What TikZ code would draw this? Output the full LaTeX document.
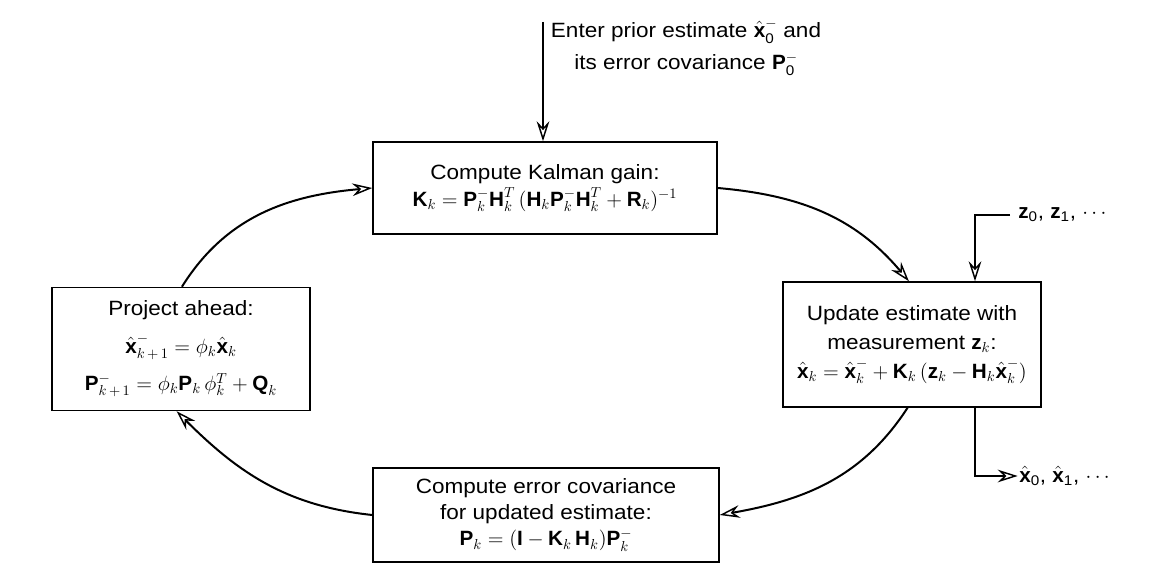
\RequirePackage{fix-cm}
\documentclass[tikz,border=0pt]{standalone}
\usepackage{fontspec}
\setmainfont{Liberation Sans}[FakeStretch=1.09]
\newfontfamily\letfont{Liberation Sans}
\usetikzlibrary{arrows.meta}
\newcommand{\bv}[1]{\mbox{\letfont\bfseries #1}}
\newcommand{\sn}[1]{\mbox{\fontsize{10.5}{11}\selectfont #1}}
\begin{document}
\begin{tikzpicture}[x=0.75pt,y=0.75pt,
  box/.style={draw, line width=1.1pt, align=center, inner sep=0pt,
    font=\fontsize{15.5}{19}\selectfont},
  lbl/.style={inner sep=0pt, font=\fontsize{15.5}{19}\selectfont},
  link/.style={line width=1.5pt,
    -{Stealth[open, length=15pt, width=9.5pt, inset=5pt, line width=1.1pt]}}]
\useasboundingbox (0,0) rectangle (1157,-570);

\node[box, minimum width=258pt, minimum height=69pt] (top) at (545,-188)
  {Compute Kalman gain:\\[1pt]
   $\bv{K}_k = \bv{P}_k^-\bv{H}_k^T\,(\bv{H}_k\bv{P}_k^-\bv{H}_k^T + \bv{R}_k)^{-1}$};

\node[box, minimum width=193.5pt, minimum height=92.25pt] (left) at (181,-349)
  {Project ahead:\\[9pt]
   $\hat{\bv{x}}_{k\,+\,1}^- = \phi_k\hat{\bv{x}}_k$\\[9pt]
   $\bv{P}_{k\,+\,1}^- = \phi_k\bv{P}_k\,\phi_k^T + \bv{Q}_k$};

\node[box, minimum width=193.5pt, minimum height=93.75pt] (right) at (912,-344.5)
  {Update estimate with\\[3pt]
   measurement $\bv{z}_k$:\\[3pt]
   $\hat{\bv{x}}_k = \hat{\bv{x}}_k^- + \bv{K}_k\,(\bv{z}_k - \bv{H}_k\hat{\bv{x}}_k^-)$};

\node[box, minimum width=259.5pt, minimum height=70.5pt] (bottom) at (546,-515)
  {Compute error covariance\\
   for updated estimate:\\[1pt]
   $\bv{P}_k = (\bv{I} - \bv{K}_k\,\bv{H}_k)\bv{P}_k^-$};

\node[lbl, align=center] (enter) at (686,-47)
  {Enter prior estimate $\hat{\bv{x}}_{\sn{0}}^-$ and\\[5pt]
   its error covariance $\bv{P}_{\sn{0}}^-$};
\coordinate (instart) at (543,-22);

\node[lbl, anchor=west] (zlab) at (1018,-215) {$\bv{z}_{\sn{0}}$, $\bv{z}_{\sn{1}}$, $\cdots$};
\node[lbl, anchor=west] (xlab) at (1019,-476) {$\hat{\bv{x}}_{\sn{0}}$, $\hat{\bv{x}}_{\sn{1}}$, $\cdots$};
\coordinate (col) at (975,0);

% input arrow
\draw[link] (instart) -- (instart |- top.north);

% cycle
\draw[link] ([xshift=98pt]left.north west) to[out=58,in=185] (top.west);
\draw[link] (top.east) to[out=-5,in=130] ([xshift=95pt]right.north west);
\draw[link] ([xshift=94pt]right.south west) to[out=-123,in=10] (bottom.east);
\draw[link] (bottom.west) to[out=174,in=-45] ([xshift=94pt]left.south west);

% measurements in
\draw[link] ([xshift=-6pt]zlab.west) -| (col |- right.north);
% estimates out
\draw[link] (col |- right.south) |- ([xshift=-1pt]xlab.west);
\end{tikzpicture}
\end{document}
